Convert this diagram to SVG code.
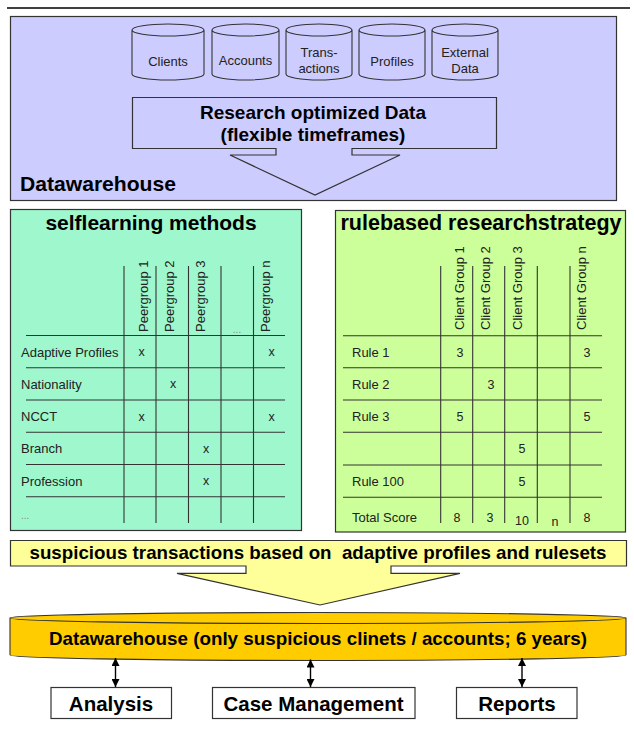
<svg xmlns="http://www.w3.org/2000/svg" width="634" height="729" viewBox="0 0 634 729">
<style>
text{font-family:"Liberation Sans",Arial,sans-serif;}
.out{stroke:#333;stroke-width:1.2;}
.cyl{fill:#ccccff;stroke:#333;stroke-width:1.1;}
.sm{font-size:13px;fill:#222;}
.cell{font-size:12.5px;fill:#222;text-anchor:middle;}
.hd{font-size:13px;fill:#222;}
.b{font-weight:bold;fill:#000;}
.grid line{stroke:#333;stroke-width:1.1;}
.dots{font-size:10px;fill:#888;}
.conn{stroke:#000;stroke-width:1.4;fill:none;marker-start:url(#ah);marker-end:url(#ah);}
</style>
<defs>
<marker id="ah" viewBox="0 0 8 8" refX="8" refY="4" markerWidth="8" markerHeight="8" markerUnits="userSpaceOnUse" orient="auto-start-reverse">
<path d="M0,0 L8,4 L0,8 z" fill="#000"/>
</marker>
</defs>
<rect width="634" height="729" fill="#fff"/>
<line x1="7" y1="8" x2="630" y2="8" stroke="#000" stroke-width="1.3"/>

<g id="datawarehouse">
<rect x="10.5" y="16.5" width="606" height="184" fill="#ccccff" class="out"/>
<text x="20" y="191" class="b" font-size="21" textLength="156" lengthAdjust="spacingAndGlyphs">Datawarehouse</text>
</g>

<g id="clients">
<path class="cyl" d="M132,30 A36,6 0 0 1 204,30 V74 A36,6 0 0 1 132,74 Z M132,30 A36,6 0 0 0 204,30"/>
<text x="168" y="66" class="sm" text-anchor="middle">Clients</text>
</g>
<g id="accounts">
<path class="cyl" d="M212,30 A33.5,6 0 0 1 279,30 V74 A33.5,6 0 0 1 212,74 Z M212,30 A33.5,6 0 0 0 279,30"/>
<text x="245.5" y="65" class="sm" text-anchor="middle">Accounts</text>
</g>
<g id="transactions">
<path class="cyl" d="M286,30 A33,6 0 0 1 352,30 V74 A33,6 0 0 1 286,74 Z M286,30 A33,6 0 0 0 352,30"/>
<text x="319" y="57" class="sm" text-anchor="middle">Trans-</text>
<text x="319" y="73" class="sm" text-anchor="middle">actions</text>
</g>
<g id="profiles">
<path class="cyl" d="M359,30 A33,6 0 0 1 425,30 V74 A33,6 0 0 1 359,74 Z M359,30 A33,6 0 0 0 425,30"/>
<text x="392" y="66" class="sm" text-anchor="middle">Profiles</text>
</g>
<g id="external">
<path class="cyl" d="M432,30 A33,6 0 0 1 498,30 V74 A33,6 0 0 1 432,74 Z M432,30 A33,6 0 0 0 498,30"/>
<text x="465" y="57" class="sm" text-anchor="middle">External</text>
<text x="465" y="73" class="sm" text-anchor="middle">Data</text>
</g>

<g id="research">
<path d="M132.5,97.5 H496.5 V148.5 H352 V155 H400 L315,195 L230,155 H276 V148.5 H132.5 Z" fill="#ccccff" class="out"/>
<text x="313" y="119" class="b" font-size="19" text-anchor="middle">Research optimized Data</text>
<text x="313" y="141" class="b" font-size="19" text-anchor="middle">(flexible timeframes)</text>
</g>

<g id="selflearning">
<rect x="10.5" y="209.5" width="291" height="321" fill="#9ff7cd" class="out"/>
<text x="151" y="230" class="b" font-size="21" text-anchor="middle">selflearning methods</text>
<g class="grid">
<line x1="124" y1="266" x2="124" y2="523"/>
<line x1="156" y1="266" x2="156" y2="523"/>
<line x1="188.5" y1="266" x2="188.5" y2="523"/>
<line x1="221" y1="266" x2="221" y2="523"/>
<line x1="253.5" y1="266" x2="253.5" y2="523"/>
<line x1="26" y1="335.5" x2="285" y2="335.5"/>
<line x1="26" y1="367.7" x2="285" y2="367.7"/>
<line x1="26" y1="400" x2="285" y2="400"/>
<line x1="26" y1="432.3" x2="285" y2="432.3"/>
<line x1="26" y1="464.5" x2="285" y2="464.5"/>
<line x1="26" y1="496.8" x2="285" y2="496.8"/>
</g>
<text class="hd" transform="translate(148,332) rotate(-90)">Peergroup 1</text>
<text class="hd" transform="translate(173.5,332) rotate(-90)">Peergroup 2</text>
<text class="hd" transform="translate(205,332) rotate(-90)">Peergroup 3</text>
<text class="dots" x="237" y="333" text-anchor="middle">...</text>
<text class="hd" transform="translate(270,332) rotate(-90)">Peergroup n</text>
<text class="sm" x="21" y="356.5">Adaptive Profiles</text>
<text class="sm" x="21" y="388.5">Nationality</text>
<text class="sm" x="21" y="421">NCCT</text>
<text class="sm" x="21" y="453">Branch</text>
<text class="sm" x="21" y="485.5">Profession</text>
<text class="dots" x="21" y="519">...</text>
<text class="cell" x="141.5" y="356">x</text>
<text class="cell" x="271.5" y="356">x</text>
<text class="cell" x="173" y="388">x</text>
<text class="cell" x="141.5" y="420.5">x</text>
<text class="cell" x="271.5" y="420.5">x</text>
<text class="cell" x="206" y="452.5">x</text>
<text class="cell" x="206" y="485">x</text>
</g>

<g id="rulebased">
<rect x="335.5" y="210.5" width="290" height="321.5" fill="#ccff99" class="out"/>
<text x="481" y="230" class="b" font-size="21.5" text-anchor="middle" textLength="281" lengthAdjust="spacingAndGlyphs">rulebased researchstrategy</text>
<g class="grid">
<line x1="440.7" y1="266" x2="440.7" y2="523"/>
<line x1="472.7" y1="266" x2="472.7" y2="523"/>
<line x1="504.7" y1="266" x2="504.7" y2="523"/>
<line x1="537.3" y1="266" x2="537.3" y2="523"/>
<line x1="570" y1="266" x2="570" y2="523"/>
<line x1="343" y1="335.7" x2="602" y2="335.7"/>
<line x1="343" y1="367.7" x2="602" y2="367.7"/>
<line x1="343" y1="400" x2="602" y2="400"/>
<line x1="343" y1="432.3" x2="602" y2="432.3"/>
<line x1="343" y1="465" x2="602" y2="465"/>
<line x1="343" y1="497.3" x2="602" y2="497.3"/>
</g>
<text class="hd" transform="translate(464,330) rotate(-90)">Client Group 1</text>
<text class="hd" transform="translate(490,330) rotate(-90)">Client Group 2</text>
<text class="hd" transform="translate(522,330) rotate(-90)">Client Group 3</text>
<text class="hd" transform="translate(585.5,330) rotate(-90)">Client Group n</text>
<text class="sm" x="352" y="357">Rule 1</text>
<text class="sm" x="352" y="389">Rule 2</text>
<text class="sm" x="352" y="421">Rule 3</text>
<text class="sm" x="352" y="486">Rule 100</text>
<text class="sm" x="352" y="522">Total Score</text>
<text class="cell" x="460" y="357">3</text>
<text class="cell" x="587" y="357">3</text>
<text class="cell" x="491" y="389">3</text>
<text class="cell" x="460" y="421">5</text>
<text class="cell" x="587" y="421">5</text>
<text class="cell" x="522" y="453">5</text>
<text class="cell" x="522" y="486">5</text>
<text class="cell" x="457" y="522">8</text>
<text class="cell" x="490" y="522">3</text>
<text class="cell" x="522" y="525">10</text>
<text class="cell" x="555" y="526">n</text>
<text class="cell" x="587" y="522">8</text>
</g>

<g id="suspicious">
<path d="M10.5,540.5 H626.5 V566 H391 V573.3 H460 L320,605 L177,573.3 H246 V566 H10.5 Z" fill="#ffff99" class="out"/>
<text x="318" y="559" class="b" font-size="19" text-anchor="middle" xml:space="preserve" style="white-space:pre" textLength="577" lengthAdjust="spacingAndGlyphs">suspicious transactions based on  adaptive profiles and rulesets</text>
</g>

<g id="dw-suspicious">
<path d="M10,618 A308,5.5 0 0 1 626,618 V655 A308,5.5 0 0 1 10,655 Z" fill="#ffcc00" stroke="#333" stroke-width="1.1"/>
<path d="M10,618 A308,5.5 0 0 0 626,618" fill="none" stroke="#333" stroke-width="1.1"/>
<text x="318" y="645" class="b" font-size="19" text-anchor="middle" textLength="538" lengthAdjust="spacingAndGlyphs">Datawarehouse (only suspicious clinets / accounts; 6 years)</text>
</g>

<g id="analysis">
<rect x="51" y="687.5" width="120.5" height="31" fill="#fff" class="out"/>
<text x="111" y="711" class="b" font-size="20.5" text-anchor="middle">Analysis</text>
</g>
<g id="case-management">
<rect x="212.5" y="687.5" width="202.5" height="31" fill="#fff" class="out"/>
<text x="313.5" y="711" class="b" font-size="20.5" text-anchor="middle">Case Management</text>
</g>
<g id="reports">
<rect x="456.5" y="687.5" width="120.5" height="31" fill="#fff" class="out"/>
<text x="517" y="711" class="b" font-size="20.5" text-anchor="middle">Reports</text>
</g>

<g id="connectors">
<line class="conn" x1="115.5" y1="658" x2="115.5" y2="687"/>
<line class="conn" x1="310.5" y1="659.5" x2="310.5" y2="687"/>
<line class="conn" x1="522" y1="658" x2="522" y2="687"/>
</g>
</svg>
